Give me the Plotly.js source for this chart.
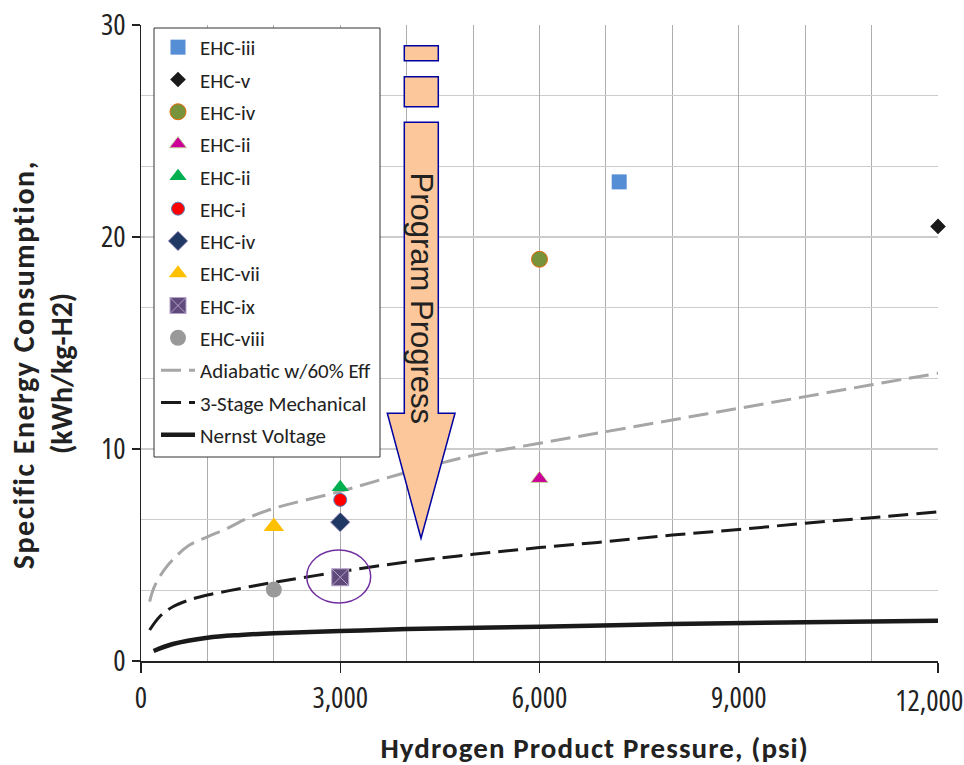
<!DOCTYPE html>
<html>
<head>
<meta charset="utf-8">
<script src="https://cdn.plot.ly/plotly-3.0.1.min.js"></script>
<style>
html,body{margin:0;padding:0;background:#fff;}
#chart{width:964px;height:765px;}
#chart .xtick text, #chart .ytick text { font-stretch: 75% !important; }
#chart .annotation[data-index="1"] text { letter-spacing: 1.1px; }
#chart .annotation[data-index="2"] text { letter-spacing: 1.5px; }
#chart .annotation[data-index="4"] text { font-stretch: 75% !important; }
</style>
</head>
<body>
<div id="chart"></div>
<script>
// ---- data ----
const markerNames    = ['EHC-iii','EHC-v','EHC-iv','EHC-ii','EHC-ii','EHC-i','EHC-iv','EHC-vii','EHC-ix','EHC-viii'];
const markerPressure = [7200, 12000, 6000, 6000, 3000, 3000, 3000, 2000, 3000, 2000];
const markerEnergy   = [22.6, 20.5, 18.95, 8.6, 8.2, 7.6, 6.55, 6.35, 3.95, 3.37];

const adiabaticP = [130, 200, 350, 530, 730, 1000, 1300, 1600, 2000, 3000, 4000, 5000, 6000, 7000, 8000, 9000, 10000, 11000, 12000];
const adiabaticE = [2.8, 3.5, 4.3, 4.95, 5.47, 5.86, 6.26, 6.73, 7.2, 8.0, 8.9, 9.7, 10.27, 10.82, 11.37, 11.92, 12.47, 13.03, 13.57];

const mechP = [130, 280, 480, 730, 1000, 1330, 1630, 2000, 3000, 4000, 5000, 6000, 7000, 8000, 9000, 10000, 11000, 12000];
const mechE = [1.46, 2.09, 2.56, 2.88, 3.11, 3.32, 3.5, 3.71, 4.21, 4.67, 5.03, 5.35, 5.63, 5.94, 6.2, 6.5, 6.76, 7.04];

const nernstP = [190, 480, 1000, 1500, 2000, 3000, 4000, 6000, 8000, 10000, 12000];
const nernstE = [0.47, 0.8, 1.1, 1.23, 1.31, 1.41, 1.51, 1.62, 1.74, 1.83, 1.9];

const lineNames = ['Adiabatic w/60% Eff', '3-Stage Mechanical', 'Nernst Voltage'];
const xTickVals = [0, 3000, 6000, 9000, 12000];
const xTickText = ['0', '3,000', '6,000', '9,000', '12,000'];
const yTickVals = [0, 10, 20, 30];

// ---- styles ----
const markerStyles = [
  {symbol:'square', size:15, color:'#558ed5', line:{width:0}},
  {symbol:'diamond', size:12, color:'#1a1a1a', line:{width:0}},
  {symbol:'circle', size:16, color:'#77933c', line:{width:1, color:'#e46c0a'}},
  {symbol:'triangle-up', size:15, color:'#cc0099', line:{width:1, color:'#c3d69b'}},
  {symbol:'triangle-up', size:15, color:'#00b050', line:{width:0}},
  {symbol:'circle', size:13, color:'#ff0000', line:{width:1, color:'#4f81bd'}},
  {symbol:'diamond', size:15, color:'#1f3864', line:{width:1, color:'#b3a2c7'}},
  {symbol:'triangle-up', size:18, color:'#ffc000', line:{width:0}},
  {symbol:'square-x', size:17, color:'#604a7b', line:{width:1, color:'#b3a2c7'}},
  {symbol:'circle', size:16, color:'#999999', line:{width:0}}
];

const traces = [];
// lines first so markers sit on top
const lineData = [[adiabaticP, adiabaticE], [mechP, mechE], [nernstP, nernstE]];
const lineStyles = [
  {color:'#a6a6a6', width:3, dash:'20px,8px'},
  {color:'#1a1a1a', width:3, dash:'20px,8px'},
  {color:'#1a1a1a', width:4.5, dash:'solid'}
];
lineData.forEach((d, i) => {
  traces.push({
    type:'scatter', mode:'lines', x:d[0], y:d[1], name:lineNames[i],
    line:Object.assign({shape:'spline', smoothing:1}, lineStyles[i]),
    legendgroup:'l'+i, legendrank:100+i, hoverinfo:'skip'
  });
});
markerNames.forEach((n, i) => {
  const s = markerStyles[i];
  traces.push({
    type:'scatter', mode:'markers', x:[markerPressure[i]], y:[markerEnergy[i]], name:n,
    marker:{symbol:s.symbol, size:s.size, color:s.color, line:s.line},
    legendgroup:'m'+i, legendrank:i+1, cliponaxis:false
  });
});

// pixel -> data / paper helpers for decorative shapes
function dx(px){ return (px - 141) / 797 * 12000; }
function dy(py){ return (661 - py) / 636 * 30; }
function px2p(px){ return (px - 141) / 797; }
function py2p(py){ return (661 - py) / 636; }
function P(pts){ return pts.map((p, k) => (k ? 'L' : 'M') + dx(p[0]).toFixed(2) + ',' + dy(p[1]).toFixed(4)).join(' ') + ' Z'; }

const arrowFill = '#fcc89b', arrowLine = '#0000a0';
const shapes = [
  // legend frame
  {type:'rect', xref:'paper', yref:'paper', layer:'above', fillcolor:'#ffffff', line:{color:'#333333', width:1},
   x0:px2p(154), x1:px2p(380), y0:py2p(457), y1:py2p(28)},
  {type:'path', xref:'x', yref:'y', layer:'above', fillcolor:arrowFill, line:{color:arrowLine, width:1.5},
   path:P([[404.3,45.7],[438.3,45.7],[438.3,60.7],[404.3,60.7]])},
  {type:'path', xref:'x', yref:'y', layer:'above', fillcolor:arrowFill, line:{color:arrowLine, width:1.5},
   path:P([[404.3,76.7],[438.3,76.7],[438.3,106.7],[404.3,106.7]])},
  {type:'path', xref:'x', yref:'y', layer:'above', fillcolor:arrowFill, line:{color:arrowLine, width:1.5},
   path:P([[404.3,122.3],[438.3,122.3],[438.3,413.3],[455,413.3],[421,538.3],[387.3,413.3],[404.3,413.3]])},
  {type:'circle', xref:'x', yref:'y', layer:'above', line:{color:'#7030a0', width:1.5},
   x0:dx(306.7), x1:dx(370.7), y0:dy(603), y1:dy(550)}
];

const titleFont = {family:'Carlito, Lato, "Open Sans", sans-serif', size:29, color:'#222'};
const tickFont = {family:'"Open Sans", "Noto Sans", sans-serif', size:29, color:'#222'};

const annotations = [
  {text:'Program Progress', xref:'x', yref:'y', x:dx(421.5), y:dy(298), showarrow:false, textangle:90,
   font:{family:'"Liberation Sans", Arial, sans-serif', size:31, color:'#222'}},
  {text:'<b>Hydrogen Product Pressure, (psi)</b>', xref:'paper', yref:'paper', x:px2p(594), y:py2p(748),
   xanchor:'center', yanchor:'middle', showarrow:false, font:titleFont},
  {text:'<b>Specific Energy Consumption,</b>', xref:'paper', yref:'paper', x:px2p(23), y:py2p(365),
   xanchor:'center', yanchor:'middle', showarrow:false, textangle:-90, font:Object.assign({}, titleFont, {size:30})},
  {text:'<b>(kWh/kg-H2)</b>', xref:'paper', yref:'paper', x:px2p(61), y:py2p(374),
   xanchor:'center', yanchor:'middle', showarrow:false, textangle:-90, font:Object.assign({}, titleFont, {size:30})},
  // last x tick label, pulled inside the right edge as in the reference
  {text:xTickText[4], xref:'paper', yref:'paper', x:px2p(929), y:py2p(699),
   xanchor:'center', yanchor:'middle', showarrow:false, font:tickFont, borderpad:0}
];

const layout = {
  width:964, height:765,
  margin:{l:141, r:26, t:25, b:104, pad:0},
  paper_bgcolor:'#fff', plot_bgcolor:'#fff',
  showlegend:true,
  legend:{x:px2p(156), y:py2p(27), xanchor:'left', yanchor:'top',
          bgcolor:'rgba(0,0,0,0)', borderwidth:0, itemwidth:34,
          font:{family:'Carlito, Lato, sans-serif', size:21, color:'#222'},
          tracegroupgap:2, traceorder:'grouped'},
  xaxis:{range:[0,12000], tickvals:xTickVals, ticktext:xTickText.map((t, k) => k === 4 ? ' ' : t),
         ticks:'outside', ticklen:10, tickcolor:'#222',
         tickwidth:1.5, showline:true, linecolor:'#222', linewidth:1.5, zeroline:false,
         showgrid:true, gridcolor:'#adadad', gridwidth:1,
         minor:{dtick:1000, tick0:0, showgrid:true, gridcolor:'#adadad', gridwidth:1, ticks:''},
         tickfont:tickFont, ticklabelstandoff:1, ticklabeloverflow:'allow', fixedrange:true},
  yaxis:{range:[0,30], tickvals:yTickVals, ticks:'outside', ticklen:8, tickcolor:'#222',
         tickwidth:1.5, showline:true, linecolor:'#222', linewidth:1.5, zeroline:false,
         showgrid:true, gridcolor:'#cccccc', gridwidth:1.2,
         minor:{dtick:10/3, tick0:0, showgrid:true, gridcolor:'#cccccc', gridwidth:1.2, ticks:''},
         tickfont:tickFont, ticklabelstandoff:0, fixedrange:true},
  shapes:shapes,
  annotations:annotations
};

Plotly.newPlot('chart', traces, layout, {displayModeBar:false, staticPlot:true});
</script>
</body>
</html>
